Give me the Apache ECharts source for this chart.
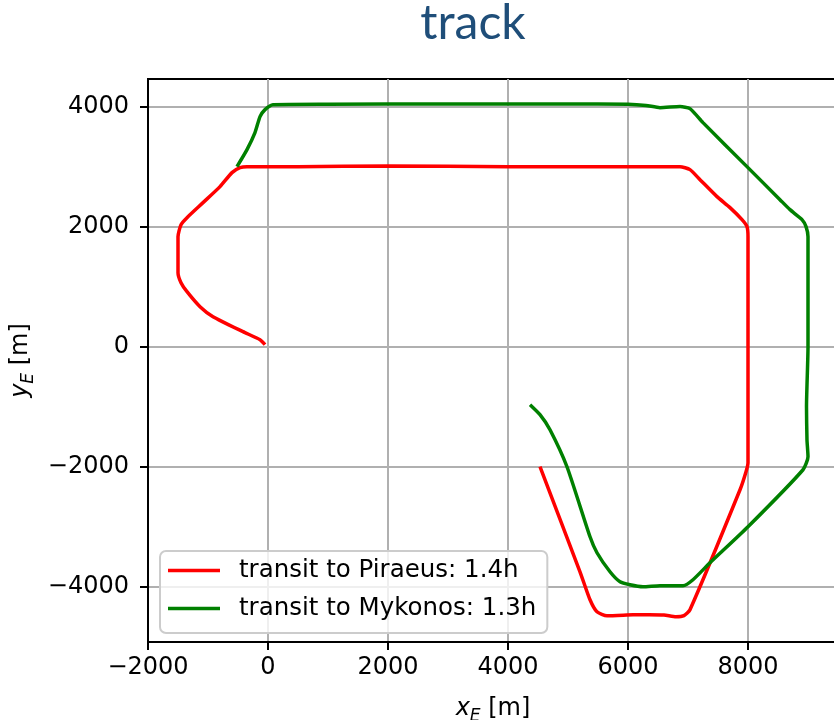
<!DOCTYPE html>
<html>
<head>
<meta charset="utf-8">
<title>track</title>
<script src="https://cdn.jsdelivr.net/npm/echarts@6/dist/echarts.min.js"></script>
<style>
  html, body { margin: 0; padding: 0; background: #fff; }
  #chart { width: 834px; height: 720px; }
</style>
</head>
<body>
<div id="chart"></div>
<script>
// East/North positions (metres) of the two ferry tracks
const piraeusName = 'transit to Piraeus: 1.4h';
const piraeusX = [-50, -133, -417, -917, -1133, -1350, -1450, -1500, -1500, -1450, -1350, -1083, -800, -600, -467, -350,
  500, 2000, 4000, 6000, 6867, 7033, 7200, 7483, 7700, 7900, 7983, 8000, 8000, 7967, 7867,
  7033, 6933, 6800, 6600, 6350, 6083, 5650, 5483, 5367, 5200, 4533];
const piraeusY = [33, 117, 250, 500, 667, 917, 1067, 1233, 1833, 2033, 2150, 2400, 2667, 2900, 2983, 3000,
  3000, 3010, 3000, 3000, 3000, 2950, 2783, 2500, 2317, 2117, 2000, 1833, -1933, -2083, -2383,
  -4383, -4480, -4500, -4470, -4465, -4467, -4483, -4417, -4217, -3750, -2000];

const mykonosName = 'transit to Mykonos: 1.3h';
const mykonosX = [-517, -350, -217, -133, -50, 83, 1000, 3000, 5000, 6000, 6300, 6533, 6867, 7033, 7250,
  7983, 8533, 8700, 8900, 8967, 9000, 9000, 8975, 8983, 9000, 8917, 8000, 7367, 7083, 6917,
  6533, 6250, 6033, 5867, 5700, 5483, 5367, 4983, 4700, 4533, 4367];
const mykonosY = [3000, 3283, 3567, 3833, 3950, 4033, 4040, 4045, 4045, 4040, 4020, 3983, 4000, 3967, 3733,
  3000, 2450, 2283, 2117, 2000, 1833, 0, -1000, -1550, -1833, -2050, -3000, -3600, -3883, -3983,
  -3983, -4000, -3967, -3917, -3750, -3433, -3167, -2000, -1383, -1133, -967];

const xTicks = [-2000, 0, 2000, 4000, 6000, 8000];
const yTicks = [-4000, -2000, 0, 2000, 4000];

const pairs = (xs, ys) => xs.map((x, i) => [x, ys[i]]);
const fmt = v => String(v).replace('-', '\u2212');
const FONT = 'DejaVu Sans';

const axisCommon = {
  type: 'value',
  axisLine: { show: true, onZero: false, lineStyle: { color: '#000', width: 2 } },
  axisTick: { show: true, inside: false, length: 8, lineStyle: { color: '#000', width: 2 } },
  splitLine: { show: true, lineStyle: { color: '#b0b0b0', width: 2 } },
  nameLocation: 'middle',
  nameTextStyle: {
    fontFamily: FONT, fontSize: 24, color: '#000',
    rich: {
      v: { fontFamily: FONT, fontSize: 24, fontStyle: 'italic', color: '#000' },
      s: { fontFamily: FONT, fontSize: 17, fontStyle: 'italic', color: '#000', padding: [16, 0, 0, 0] },
      t: { fontFamily: FONT, fontSize: 24, color: '#000' }
    }
  }
};

const chart = echarts.init(document.getElementById('chart'), null, { renderer: 'canvas' });
chart.setOption({
  animation: false,
  backgroundColor: '#fff',
  graphic: [{
    type: 'text', x: 473, y: 24, z: 10,
    style: { text: 'track', fontFamily: 'Lato', fontSize: 48, fill: '#1f4e79', align: 'center', verticalAlign: 'middle' }
  }],
  grid: {
    left: 148, right: -4, top: 79, bottom: 78,
    outerBoundsMode: 'none', containLabel: false,
    show: true, borderColor: '#000', borderWidth: 2, backgroundColor: 'transparent'
  },
  xAxis: Object.assign({}, axisCommon, {
    min: -2000, max: 9500,
    name: '{v|x}{s|E}{t| [m]}', nameGap: 50,
    axisTick: Object.assign({}, axisCommon.axisTick, { customValues: xTicks }),
    axisLabel: { customValues: xTicks, formatter: fmt, fontFamily: FONT, fontSize: 24, color: '#000', margin: 14 }
  }),
  yAxis: Object.assign({}, axisCommon, {
    min: -4920, max: 4460,
    name: '{v|y}{s|E}{t| [m]}', nameGap: 108,
    axisTick: Object.assign({}, axisCommon.axisTick, { customValues: yTicks }),
    axisLabel: { customValues: yTicks, formatter: fmt, fontFamily: FONT, fontSize: 24, color: '#000', margin: 19 }
  }),
  legend: {
    orient: 'vertical', left: 160, top: 551,
    padding: [7, 11, 12, 8],
    icon: 'rect',
    itemWidth: 52, itemHeight: 3.5, itemGap: 13,
    backgroundColor: 'rgba(255,255,255,0.8)', borderColor: '#cccccc', borderWidth: 2, borderRadius: 6,
    textStyle: { fontFamily: FONT, fontSize: 24.5, color: '#000', lineHeight: 24, padding: [0, 0, 0, 14] },
    data: [piraeusName, mykonosName]
  },
  series: [
    {
      name: piraeusName, type: 'line', data: pairs(piraeusX, piraeusY),
      symbol: 'none', showSymbol: false, smooth: 0.2,
      lineStyle: { color: '#ff0000', width: 3.5 }, itemStyle: { color: '#ff0000' }
    },
    {
      name: mykonosName, type: 'line', data: pairs(mykonosX, mykonosY),
      symbol: 'none', showSymbol: false, smooth: 0.2,
      lineStyle: { color: '#008000', width: 3.5 }, itemStyle: { color: '#008000' }
    }
  ]
});
</script>
</body>
</html>
